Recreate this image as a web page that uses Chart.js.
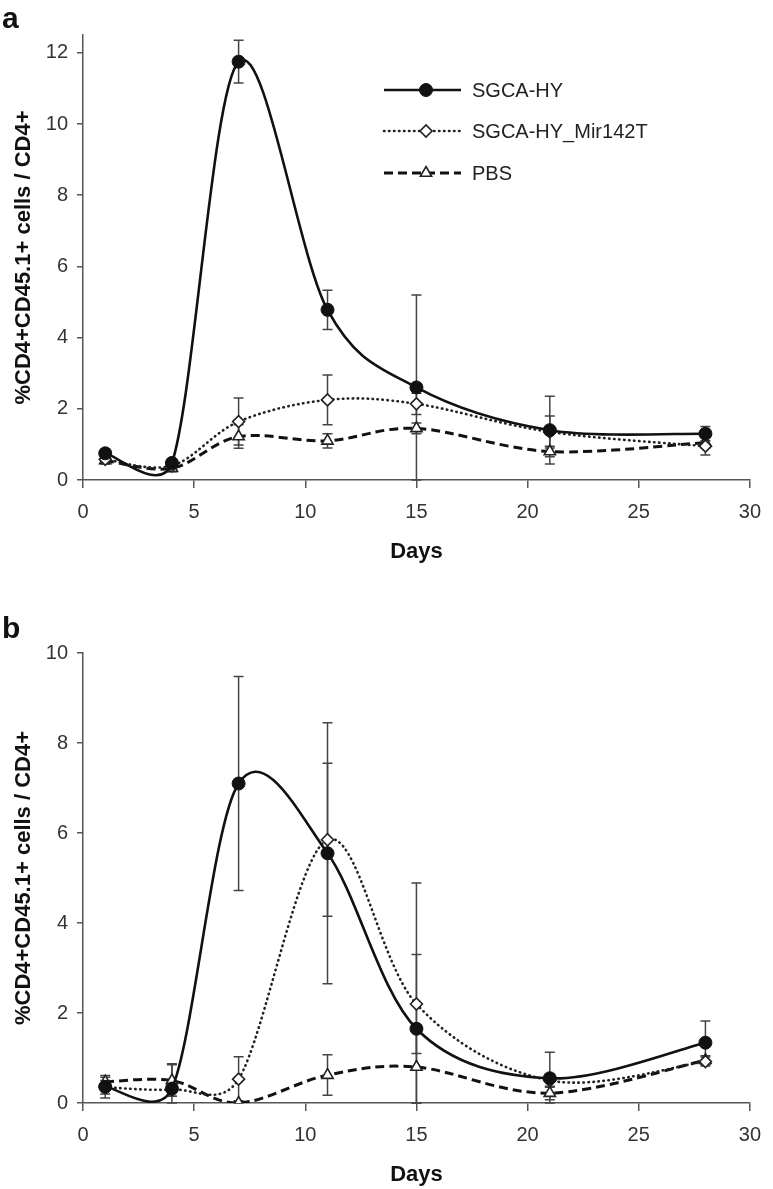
<!DOCTYPE html>
<html>
<head>
<meta charset="utf-8">
<script src="https://cdn.jsdelivr.net/npm/chart.js@4.4.1/dist/chart.umd.min.js"></script>
<style>
  body { margin: 0; background: #fff; width: 773px; height: 1189px; position: relative; overflow: hidden; font-family: "Liberation Sans", Arial, sans-serif; }
  .panel { position: absolute; left: 0; }
  .panel canvas { display: block; }
  .tag { position: absolute; left: 2px; font-weight: bold; font-size: 30px; line-height: 1; color: #111; }
</style>
</head>
<body>
<div class="panel" style="top:0"><canvas id="chartA" width="773" height="575"></canvas></div>
<div class="panel" style="top:600px"><canvas id="chartB" width="773" height="589"></canvas></div>
<div class="tag" style="top:3px">a</div>
<div class="tag" style="top:613px">b</div>
<script>
// days sampled
const days = [1, 4, 7, 11, 15, 21, 28];
const seriesLabels = ['SGCA-HY', 'SGCA-HY_Mir142T', 'PBS'];
const yTicksA = [0, 2, 4, 6, 8, 10, 12];
const yTicksB = [0, 2, 4, 6, 8, 10];

// panel a
const hyA = [0.75, 0.48, 11.75, 4.78, 2.6, 1.4, 1.3];
const hyErrA = [0.12, 0.12, 0.6, 0.55, 2.6, 0.95, 0.2];
const miA = [0.58, 0.4, 1.64, 2.25, 2.14, 1.35, 0.95];
const miErrA = [0.1, 0.1, 0.66, 0.7, 0.3, 0.45, 0.25];
const pbsA = [0.55, 0.33, 1.22, 1.1, 1.45, 0.8, 1.05];
const pbsErrA = [0.1, 0.1, 0.33, 0.2, 0.15, 0.15, 0.15];

// panel b
const hyB = [0.36, 0.32, 7.1, 5.55, 1.65, 0.55, 1.34];
const hyErrB = [0.25, 0.55, 2.38, 2.9, 3.24, 0.58, 0.48];
const miB = [0.35, 0.3, 0.53, 5.85, 2.2, 0.5, 0.92];
const miErrB = [0.15, 0.15, 0.5, 1.7, 1.1, 0.15, 0.1];
const pbsB = [0.47, 0.5, 0.0, 0.62, 0.8, 0.22, 0.95];
const pbsErrB = [0.1, 0.35, 0.05, 0.45, 0.8, 0.15, 0.1];

const FONT = '"Liberation Sans", Arial, sans-serif';
Chart.defaults.font.family = FONT;
const SMOOTH_K = 1 / 6;   // excel-like smoothing (catmull-rom handles)
const HANDLE_CAP = 0.5;   // handle never longer than half the neighbouring segment

function points(vals) {
  return days.map((d, i) => ({ x: d, y: vals[i] }));
}

function makeDatasets(hy, hyErr, mi, miErr, pbs, pbsErr) {
  return [
    {
      label: seriesLabels[0], data: points(hy), errors: hyErr,
      borderColor: '#111', borderWidth: 2.6, tension: 0.4,
      pointStyle: 'circle', pointRadius: 6.5,
      pointBackgroundColor: '#111', pointBorderColor: '#111', pointBorderWidth: 1
    },
    {
      label: seriesLabels[1], data: points(mi), errors: miErr,
      borderColor: '#222', borderWidth: 2.6, borderDash: [0.5, 4.5], borderCapStyle: 'round', tension: 0.4,
      pointStyle: 'rectRot', pointRadius: 6,
      pointBackgroundColor: '#fff', pointBorderColor: '#222', pointBorderWidth: 1.6
    },
    {
      label: seriesLabels[2], data: points(pbs), errors: pbsErr,
      borderColor: '#111', borderWidth: 3, borderDash: [9, 5], tension: 0.4,
      pointStyle: 'triangle', pointRadius: 6.5,
      pointBackgroundColor: '#fff', pointBorderColor: '#222', pointBorderWidth: 1.6
    }
  ];
}

// recompute bezier handles from the scaled point positions
const smoothLines = {
  id: 'smoothLines',
  beforeDatasetDraw(chart, args) {
    const meta = args.meta;
    const pts = meta.data;
    pts.forEach((p, i) => {
      const prev = pts[i - 1] || p;
      const next = pts[i + 1] || p;
      const dx = (next.x - prev.x) * SMOOTH_K;
      const dy = (next.y - prev.y) * SMOOTH_K;
      const len = Math.hypot(dx, dy);
      const dPrev = Math.hypot(p.x - prev.x, p.y - prev.y);
      const dNext = Math.hypot(next.x - p.x, next.y - p.y);
      const sPrev = len > 0 ? Math.min(1, dPrev * HANDLE_CAP / len) : 0;
      const sNext = len > 0 ? Math.min(1, dNext * HANDLE_CAP / len) : 0;
      p.cp1x = p.x - dx * sPrev; p.cp1y = p.y - dy * sPrev;
      p.cp2x = p.x + dx * sNext; p.cp2y = p.y + dy * sNext;
    });
    meta.dataset._pointsUpdated = true;
    meta.dataset._path = undefined;
  }
};

// error bars from the dataset values, through the chart scales
const errorBars = {
  id: 'errorBars',
  beforeDatasetsDraw(chart) {
    const { ctx, scales: { x, y } } = chart;
    ctx.save();
    ctx.strokeStyle = '#444';
    ctx.lineWidth = 1.5;
    chart.data.datasets.forEach(ds => {
      ds.data.forEach((p, i) => {
        const e = ds.errors[i];
        const px = x.getPixelForValue(p.x);
        const hi = Math.min(p.y + e, y.max);
        const lo = Math.max(p.y - e, y.min);
        const yHi = y.getPixelForValue(hi);
        const yLo = y.getPixelForValue(lo);
        ctx.beginPath();
        ctx.moveTo(px, yHi); ctx.lineTo(px, yLo);
        ctx.moveTo(px - 5, yHi); ctx.lineTo(px + 5, yHi);
        ctx.moveTo(px - 5, yLo); ctx.lineTo(px + 5, yLo);
        ctx.stroke();
      });
    });
    ctx.restore();
  }
};

// legend inside panel a
const legendBox = {
  id: 'legendBox',
  afterDraw(chart) {
    const ctx = chart.ctx;
    const rows = [90, 131, 173];
    chart.data.datasets.forEach((ds, i) => {
      const yy = rows[i];
      ctx.save();
      ctx.strokeStyle = ds.borderColor;
      ctx.lineWidth = ds.borderWidth;
      ctx.lineCap = ds.borderCapStyle || 'butt';
      ctx.setLineDash(ds.borderDash || []);
      ctx.beginPath();
      ctx.moveTo(384, yy); ctx.lineTo(461, yy);
      ctx.stroke();
      ctx.setLineDash([]);
      ctx.fillStyle = ds.pointBackgroundColor;
      ctx.strokeStyle = ds.pointBorderColor;
      ctx.lineWidth = ds.pointBorderWidth;
      Chart.helpers.drawPoint(ctx, {
        pointStyle: ds.pointStyle, radius: ds.pointRadius, rotation: 0, borderWidth: ds.pointBorderWidth
      }, 426, yy);
      ctx.fillStyle = '#222';
      ctx.font = '20px ' + FONT;
      ctx.textBaseline = 'middle';
      ctx.fillText(ds.label, 472, yy + 1);
      ctx.restore();
    });
  }
};

function makeOptions(yMax, yTicks, pad, xHeight, daysPad) {
  return {
    responsive: false,
    animation: false,
    layout: { padding: pad },
    plugins: { legend: { display: false }, tooltip: { enabled: false } },
    scales: {
      x: {
        type: 'linear', min: 0, max: 30,
        ticks: { stepSize: 5, color: '#333', font: { size: 20 }, padding: 12 },
        grid: { drawOnChartArea: false, tickLength: 8, color: '#555', lineWidth: 1.5 },
        border: { color: '#555', width: 1.5 },
        title: { display: true, text: 'Days', color: '#111', font: { size: 22, weight: 'bold' }, padding: { top: 0, bottom: daysPad } },
        afterFit(s) { s.height = xHeight; }
      },
      y: {
        min: 0, max: yMax,
        ticks: { color: '#333', font: { size: 20 }, padding: 9 },
        afterBuildTicks(s) { s.ticks = yTicks.map(v => ({ value: v })); },
        grid: { drawOnChartArea: false, tickLength: 6, color: '#555', lineWidth: 1.5 },
        border: { color: '#555', width: 1.5 },
        title: { display: true, text: '%CD4+CD45.1+ cells / CD4+', color: '#111', font: { size: 22, weight: 'bold' }, padding: { top: 11, bottom: 0 } },
        afterFit(s) { s.width = 83; }
      }
    }
  };
}

new Chart(document.getElementById('chartA').getContext('2d'), {
  type: 'line',
  data: { datasets: makeDatasets(hyA, hyErrA, miA, miErrA, pbsA, pbsErrA) },
  options: makeOptions(12.5, yTicksA, { top: 35, right: 23, left: 0, bottom: 0 }, 95, 10),
  plugins: [smoothLines, errorBars, legendBox]
});

new Chart(document.getElementById('chartB').getContext('2d'), {
  type: 'line',
  data: { datasets: makeDatasets(hyB, hyErrB, miB, miErrB, pbsB, pbsErrB) },
  options: makeOptions(10, yTicksB, { top: 53, right: 16, left: 0, bottom: 0 }, 86, 1),
  plugins: [smoothLines, errorBars]
});
</script>
</body>
</html>
